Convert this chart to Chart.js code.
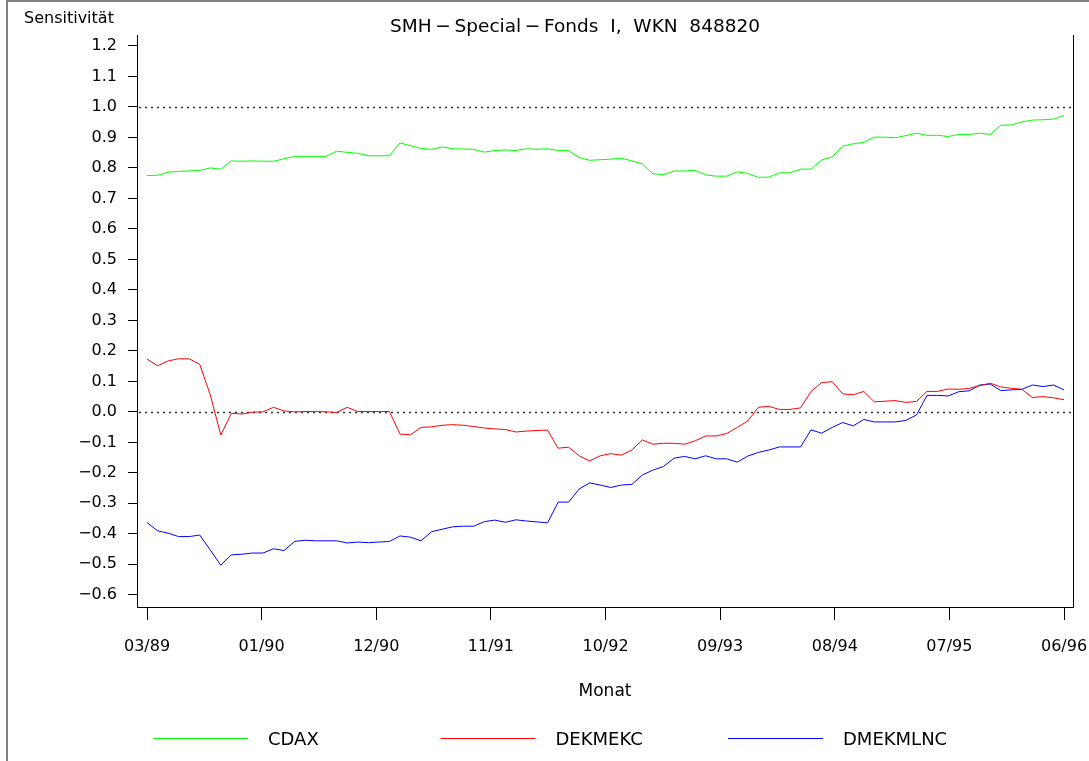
<!DOCTYPE html>
<html><head><meta charset="utf-8">
<script src="https://cdn.jsdelivr.net/npm/chart.js@4.4.1/dist/chart.umd.min.js"></script>
<style>html,body{margin:0;padding:0;background:#fff;overflow:hidden}#wrap{position:relative;width:1089px;height:761px}</style>
</head><body><div id="wrap"><canvas id="c" width="1089" height="761"></canvas></div>
<script>
// x tick labels (every 87/8 months from 03/89 to 06/96)
const tickLabels = ['03/89','01/90','12/90','11/91','10/92','09/93','08/94','07/95','06/96'];
const yTicks = [1.2,1.1,1.0,0.9,0.8,0.7,0.6,0.5,0.4,0.3,0.2,0.1,0.0,-0.1,-0.2,-0.3,-0.4,-0.5,-0.6];
const refLines = [1.0, 0.0];
const seriesNames = ['CDAX','DEKMEKC','DMEKMLNC'];
const seriesColors = ['#00ff00','#ff0000','#0000ff'];

const cdax = [
 .775,.776,.786,.789,.790,.792,.800,.796,.823,.822,
 .823,.822,.822,.830,.838,.838,.838,.838,.855,.851,
 .848,.840,.840,.840,.882,.873,.864,.861,.869,.863,
 .862,.861,.852,.857,.859,.857,.863,.861,.863,.857,
 .857,.834,.825,.827,.829,.832,.823,.813,.781,.778,
 .790,.790,.792,.777,.773,.773,.787,.782,.769,.770,
 .784,.784,.796,.796,.826,.836,.872,.879,.884,.901,
 .901,.899,.906,.914,.907,.907,.903,.910,.910,.914,
 .910,.940,.941,.951,.957,.958,.960,.972];
const dekmekc = [
 .173,.151,.167,.174,.174,.156,.056,-.076,-.005,-.007,
 -.001,0,.015,.003,0,.001,.001,0,-.002,.015,
 .001,.001,.001,.001,-.073,-.075,-.051,-.049,-.044,-.042,
 -.044,-.048,-.053,-.056,-.058,-.066,-.063,-.061,-.060,-.119,
 -.116,-.144,-.161,-.144,-.137,-.142,-.125,-.092,-.106,-.103,
 -.103,-.106,-.095,-.079,-.079,-.071,-.051,-.030,.015,.018,
 .008,.008,.013,.067,.096,.099,.059,.056,.067,.033,
 .035,.037,.031,.034,.067,.067,.075,.074,.077,.086,
 .094,.082,.077,.074,.047,.050,.046,.040];
const dmekmlnc = [
 -.363,-.390,-.398,-.409,-.409,-.404,-.453,-.503,-.469,-.467,
 -.463,-.463,-.449,-.455,-.425,-.421,-.423,-.423,-.423,-.430,
 -.427,-.429,-.427,-.425,-.407,-.411,-.423,-.393,-.385,-.377,
 -.375,-.375,-.360,-.355,-.362,-.354,-.358,-.361,-.364,-.296,
 -.296,-.253,-.233,-.240,-.248,-.240,-.238,-.207,-.191,-.179,
 -.152,-.146,-.154,-.144,-.154,-.154,-.165,-.145,-.133,-.125,
 -.115,-.115,-.115,-.059,-.070,-.051,-.035,-.046,-.025,-.033,
 -.033,-.033,-.028,-.010,.054,.054,.052,.066,.069,.088,
 .091,.070,.072,.074,.088,.083,.088,.072];

const FONT = 'DejaVu Sans';
const nMonths = cdax.length - 1;
const toPts = vals => vals.map((v, i) => ({x: i, y: v}));
const fmtY = v => v < 0 ? '\u2212' + Math.abs(v).toFixed(1) : v.toFixed(1);

const deco = {
  id: 'deco',
  beforeDatasetsDraw(chart) {
    const {ctx, chartArea: a, scales: {y}} = chart;
    ctx.save();
    ctx.setLineDash([2, 4]);
    ctx.strokeStyle = '#333';
    ctx.lineWidth = 1.5;
    refLines.forEach(v => {
      const py = Math.round(y.getPixelForValue(v)) + 0.5;
      ctx.beginPath(); ctx.moveTo(a.left + 2, py); ctx.lineTo(a.right - 1, py); ctx.stroke();
    });
    ctx.restore();
  },
  afterDraw(chart) {
    const {ctx, chartArea: a} = chart;
    ctx.save();
    // right frame line
    ctx.strokeStyle = '#000'; ctx.lineWidth = 1;
    ctx.beginPath(); ctx.moveTo(a.right + 0.5, a.top); ctx.lineTo(a.right + 0.5, a.bottom); ctx.stroke();
    // outer border (left and top)
    ctx.strokeStyle = '#808080'; ctx.lineWidth = 2;
    ctx.beginPath(); ctx.moveTo(7, 761); ctx.lineTo(7, 1); ctx.lineTo(1089, 1); ctx.stroke();
    // title
    ctx.fillStyle = '#000';
    ctx.textBaseline = 'middle';
    ctx.textAlign = 'center';
    ctx.font = '18.5px "' + FONT + '"';
    ctx.fillText('SMH\u2009\u2212\u2009Special\u2009\u2212\u2009Fonds  I,  WKN  848820', (a.left + a.right) / 2 - 30, 27);
    // y axis label
    ctx.textAlign = 'left';
    ctx.font = '16px "' + FONT + '"';
    ctx.fillText('Sensitivit\u00e4t', 24, 19);
    // legend
    ctx.font = '18px "' + FONT + '"';
    chart.data.datasets.forEach((ds, k) => {
      const x0 = a.left + 16 + 287.5 * k;
      ctx.strokeStyle = ds.borderColor; ctx.lineWidth = 1;
      ctx.beginPath(); ctx.moveTo(x0, 738.5); ctx.lineTo(x0 + 95, 738.5); ctx.stroke();
      ctx.fillStyle = '#000';
      ctx.fillText(ds.label, x0 + 115, 740);
    });
    ctx.restore();
  }
};

new Chart(document.getElementById('c'), {
  type: 'line',
  data: {
    datasets: [cdax, dekmekc, dmekmlnc].map((vals, k) => ({
      label: seriesNames[k], data: toPts(vals), borderColor: seriesColors[k],
      borderWidth: 1, pointRadius: 0, tension: 0, fill: false
    }))
  },
  options: {
    responsive: false, animation: false, devicePixelRatio: 1,
    layout: {padding: {top: 35, right: 16, left: 0, bottom: 0}},
    plugins: {legend: {display: false}, title: {display: false}, tooltip: {enabled: false}},
    scales: {
      x: {
        type: 'linear', min: -0.95, max: nMonths + 0.85,
        afterBuildTicks: s => { s.ticks = tickLabels.map((_, k) => ({value: k * nMonths / (tickLabels.length - 1)})); },
        afterFit: s => { s.height = 154; s.paddingLeft = 0; s.paddingRight = 0; },
        grid: {drawOnChartArea: false, drawTicks: true, tickLength: 13, color: '#000', lineWidth: 1},
        border: {display: true, color: '#000', width: 1},
        ticks: {autoSkip: false, maxRotation: 0, padding: 17, color: '#000', font: {family: FONT, size: 16},
                callback: (v, i) => tickLabels[i]},
        title: {display: true, text: 'Monat', color: '#000', font: {family: FONT, size: 17}, padding: {top: 0, bottom: 59}}
      },
      y: {
        type: 'linear', min: -0.64, max: 1.236,
        afterBuildTicks: s => { s.ticks = yTicks.map(v => ({value: v})); },
        afterFit: s => { s.width = 137; s.paddingTop = 0; s.paddingBottom = 0; },
        grid: {drawOnChartArea: false, drawTicks: true, tickLength: 9, color: '#000', lineWidth: 1},
        border: {display: true, color: '#000', width: 1},
        ticks: {padding: 11, color: '#000', font: {family: FONT, size: 16}, callback: v => fmtY(v)}
      }
    }
  },
  plugins: [deco]
});
</script></body></html>
